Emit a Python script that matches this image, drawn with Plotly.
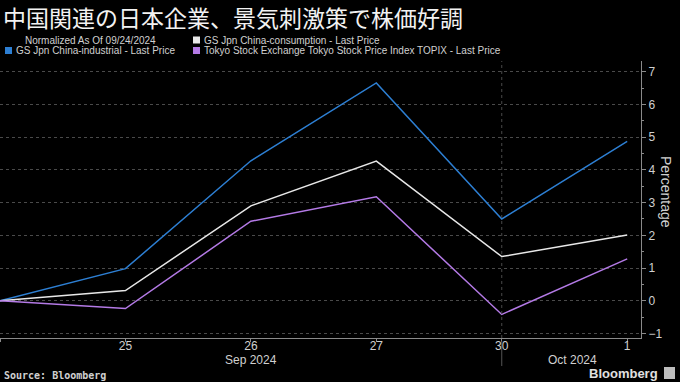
import plotly.graph_objects as go

dates = ["2024-09-24", "2024-09-25", "2024-09-26", "2024-09-27", "2024-09-30", "2024-10-01"]
day_labels = ["", "25", "26", "27", "30", "1"]
industrial = [0.0, 0.98, 4.28, 6.66, 2.50, 4.87]
consumption = [0.0, 0.31, 2.90, 4.27, 1.35, 2.01]
topix = [0.0, -0.24, 2.43, 3.18, -0.42, 1.28]
y_ticks = [-1, 0, 1, 2, 3, 4, 5, 6, 7]

BLUE = "#2d7fd3"
WHITE = "#e8e8e8"
PURPLE = "#b47ae6"
idx = list(range(len(dates)))

fig = go.Figure()
fig.add_trace(go.Scatter(x=idx, y=industrial, mode="lines", line=dict(color=BLUE, width=1.5), hoverinfo="skip"))
fig.add_trace(go.Scatter(x=idx, y=consumption, mode="lines", line=dict(color=WHITE, width=1.5), hoverinfo="skip"))
fig.add_trace(go.Scatter(x=idx, y=topix, mode="lines", line=dict(color=PURPLE, width=1.5), hoverinfo="skip"))

PLOT_TOP, PLOT_BOTTOM, PLOT_RIGHT = 61, 338, 641
fig.update_layout(
    width=680, height=382,
    paper_bgcolor="black", plot_bgcolor="black",
    margin=dict(l=0, r=680 - PLOT_RIGHT, t=PLOT_TOP, b=382 - PLOT_BOTTOM, autoexpand=False),
    showlegend=False,
    font=dict(family="Liberation Sans, Arial, sans-serif", color="#d0d0d0"),
    xaxis=dict(
        range=[0, 5.11], tickmode="array", tickvals=idx, ticktext=day_labels,
        showgrid=False, zeroline=False, showline=True, linecolor="#8a8a8a", linewidth=1,
        ticks="outside", ticklen=3, tickcolor="#8a8a8a", automargin=False,
        ticklabelstandoff=-6,
        tickfont=dict(size=12, color="#d0d0d0"),
    ),
    yaxis=dict(
        range=[-1.14, 7.33], side="right", tickmode="array", tickvals=y_ticks,
        showgrid=True, gridcolor="#4a4a4a", griddash="dot", gridwidth=1,
        zeroline=False, showline=True, linecolor="#8a8a8a", linewidth=1,
        ticks="outside", ticklen=4, tickcolor="#8a8a8a", automargin=False,
        minor=dict(dtick=0.5, ticks="outside", ticklen=2, tickcolor="#8a8a8a", showgrid=False),
        tickfont=dict(size=12, color="#d0d0d0"),
    ),
)

plot_w, plot_h = PLOT_RIGHT, PLOT_BOTTOM - PLOT_TOP
def to_paper(px, py):
    return px / plot_w, (PLOT_BOTTOM - py) / plot_h

# vertical dotted separator at month boundary
fig.add_shape(type="line", xref="x", yref="paper", x0=4, x1=4, y0=0, y1=1,
              line=dict(color="#4a4a4a", width=1, dash="dot"))
_, sy0 = to_paper(0, 341)
_, sy1 = to_paper(0, 366)
fig.add_shape(type="line", xref="x", yref="paper", x0=4, x1=4, y0=sy0, y1=sy1,
              line=dict(color="#555555", width=1))

# y-axis title
px_, py_ = to_paper(666, 192)
fig.add_annotation(x=px_, y=py_, xref="paper", yref="paper", text="Percentage", showarrow=False,
                   textangle=90, xanchor="center", yanchor="middle",
                   font=dict(size=14, color="#d0d0d0"))

# month labels
_, my = to_paper(0, 360)
fig.add_annotation(x=2, y=my, xref="x", yref="paper", text="Sep 2024", showarrow=False,
                   yanchor="middle", font=dict(size=12, color="#d0d0d0"))
fig.add_annotation(x=4.56, y=my, xref="x", yref="paper", text="Oct 2024", showarrow=False,
                   yanchor="middle", font=dict(size=12, color="#d0d0d0"))

# title
tx, ty = to_paper(1, 17)
fig.add_annotation(x=tx, y=ty, xref="paper", yref="paper", text="中国関連の日本企業、景気刺激策で株価好調",
                   showarrow=False, xanchor="left", yanchor="middle",
                   font=dict(family="Noto Sans CJK JP", size=23, color="#f2f2f2"))

legend_rows = [
    (23, 40, None, "Normalized As Of 09/24/2024"),
    (193, 40, WHITE, "GS Jpn China-consumption - Last Price"),
    (5, 50.5, BLUE, "GS Jpn China-industrial - Last Price"),
    (193, 50.5, PURPLE, "Tokyo Stock Exchange Tokyo Stock Price Index TOPIX - Last Price"),
]
for px, py, col, label in legend_rows:
    lx = px
    if col:
        x0, y0 = to_paper(px, py + 3.5)
        x1, y1 = to_paper(px + 7, py - 3.5)
        fig.add_shape(type="rect", xref="paper", yref="paper", x0=x0, x1=x1, y0=y0, y1=y1,
                      fillcolor=col, line=dict(width=0))
        lx = px + 8.5
    ax, ay = to_paper(lx, py)
    fig.add_annotation(x=ax, y=ay, xref="paper", yref="paper", text=label, showarrow=False,
                       xanchor="left", yanchor="middle",
                       font=dict(size=10, color="#d0d0d0"))

# source & brand
sx, sy = to_paper(2, 375)
fig.add_annotation(x=sx, y=sy, xref="paper", yref="paper", text="<b>Source: Bloomberg</b>",
                   showarrow=False, xanchor="left", yanchor="middle",
                   font=dict(size=10, color="#d0d0d0", family="DejaVu Sans Mono, monospace"))
bx, by = to_paper(660, 373)
fig.add_annotation(x=bx, y=by, xref="paper", yref="paper", text="<b>Bloomberg</b>",
                   showarrow=False, xanchor="right", yanchor="middle",
                   font=dict(size=13, color="#e0e0e0"))
lx0, ly0 = to_paper(664, 379)
lx1, ly1 = to_paper(675, 367)
fig.add_shape(type="rect", xref="paper", yref="paper", x0=lx0, x1=lx1, y0=ly0, y1=ly1,
              fillcolor="#bdbdbd", line=dict(width=0))

fig.write_html("out.html", config={"displayModeBar": False},
               post_script="document.body.style.margin='0';document.body.style.padding='0';document.body.style.background='black';")
